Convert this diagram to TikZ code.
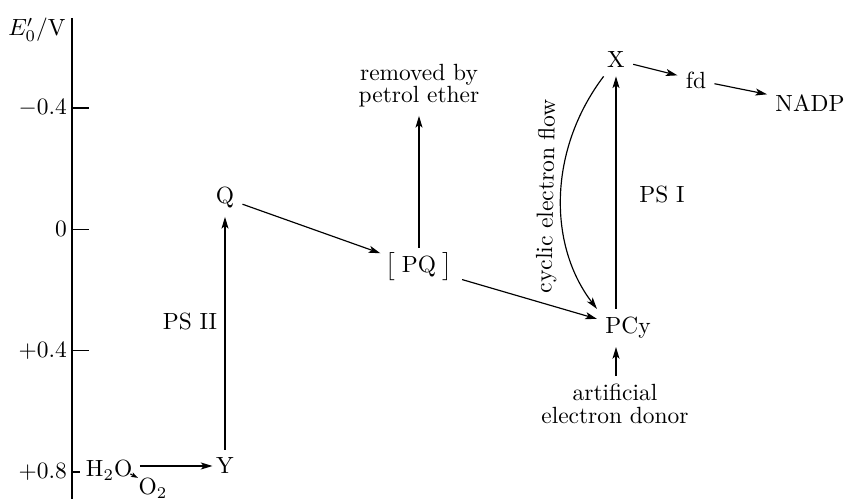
\documentclass[tikz,border=0pt]{standalone}
\usepackage{amsmath,amssymb,amsfonts}
\usepackage{xcolor}
\usepackage{tikz}
\usetikzlibrary{shapes,arrows,arrows.meta,positioning}

\begin{document}
\begin{tikzpicture}[
    x=0.015cm, y=-0.015cm,
    line width=0.5pt,
    >={Stealth[length=5pt, width=3pt, inset=1.2pt]},
    small/.style={-{Stealth[length=3pt, width=2pt, inset=0.7pt]}},
    note/.style={align=center, font=\fontsize{10pt}{9.5pt}\selectfont}]
    \useasboundingbox (0,0) rectangle (845,499);
    \draw (72,18) -- (72,499);
    \node (unit) at (37,30) {$E'_0/\mathrm{V}$};
    \foreach \y/\v/\l [count=\i] in {108/-0.4/17, 229.3/0/17, 350.6/+0.4/17, 472/+0.8/8}
        \draw (72,\y) -- ++(\l,0) node[pos=0, left, inner sep=2pt] (tick\i) {$\v$};
    \node[inner sep=1pt, anchor=base west] (water) at (83,477) {H$_2$O};
    \node[inner sep=0pt, anchor=base west] (oxygen) at (138,495) {O$_2$};
    \node (Y) at (225,466) {Y};
    \node (Q) at (225,198) {Q};
    \node[inner sep=2pt] (PQ) at (419,267) {$\big[\;$PQ$\;\big]$};
    \node[note] (removed) at (419,86) {removed by\\petrol ether};
    \node (PCy) at (628,328) {PCy};
    \node[note] (donor) at (615,404) {artificial\\electron donor};
    \node (X) at (616,60) {X};
    \node (fd) at (696,80) {fd};
    \node (NADP) at (810,103) {NADP};
    \node (psII) at (190,322) {PS II};
    \node (psI) at (662,195) {PS I};
    \draw[small] ([shift={(-2pt,-1.5pt)}]water.east) -- (oxygen.north west);
    \draw[->, shorten <=2pt, shorten >=-2pt] (water.east |- Y) -- (Y);
    \draw[->] (Y) -- (Q);
    \draw[->] (Q) -- (PQ);
    \draw[->] (PQ) -- (removed);
    \draw[->, shorten <=2pt] (PQ) -- (PCy);
    \draw[->] (PCy.north -| X.south) -- (X.south);
    \draw[->] (donor.north -| X.south) -- (PCy.south -| X.south);
    \draw[<-] (PCy.north west) .. controls (548,245) and (548,150) .. (X)
        node[midway, sloped, above, inner sep=1pt] (cyclic) {cyclic electron flow};
    \draw[->] (X) -- (fd);
    \draw[->] (fd) -- (NADP);
\end{tikzpicture}
\end{document}
